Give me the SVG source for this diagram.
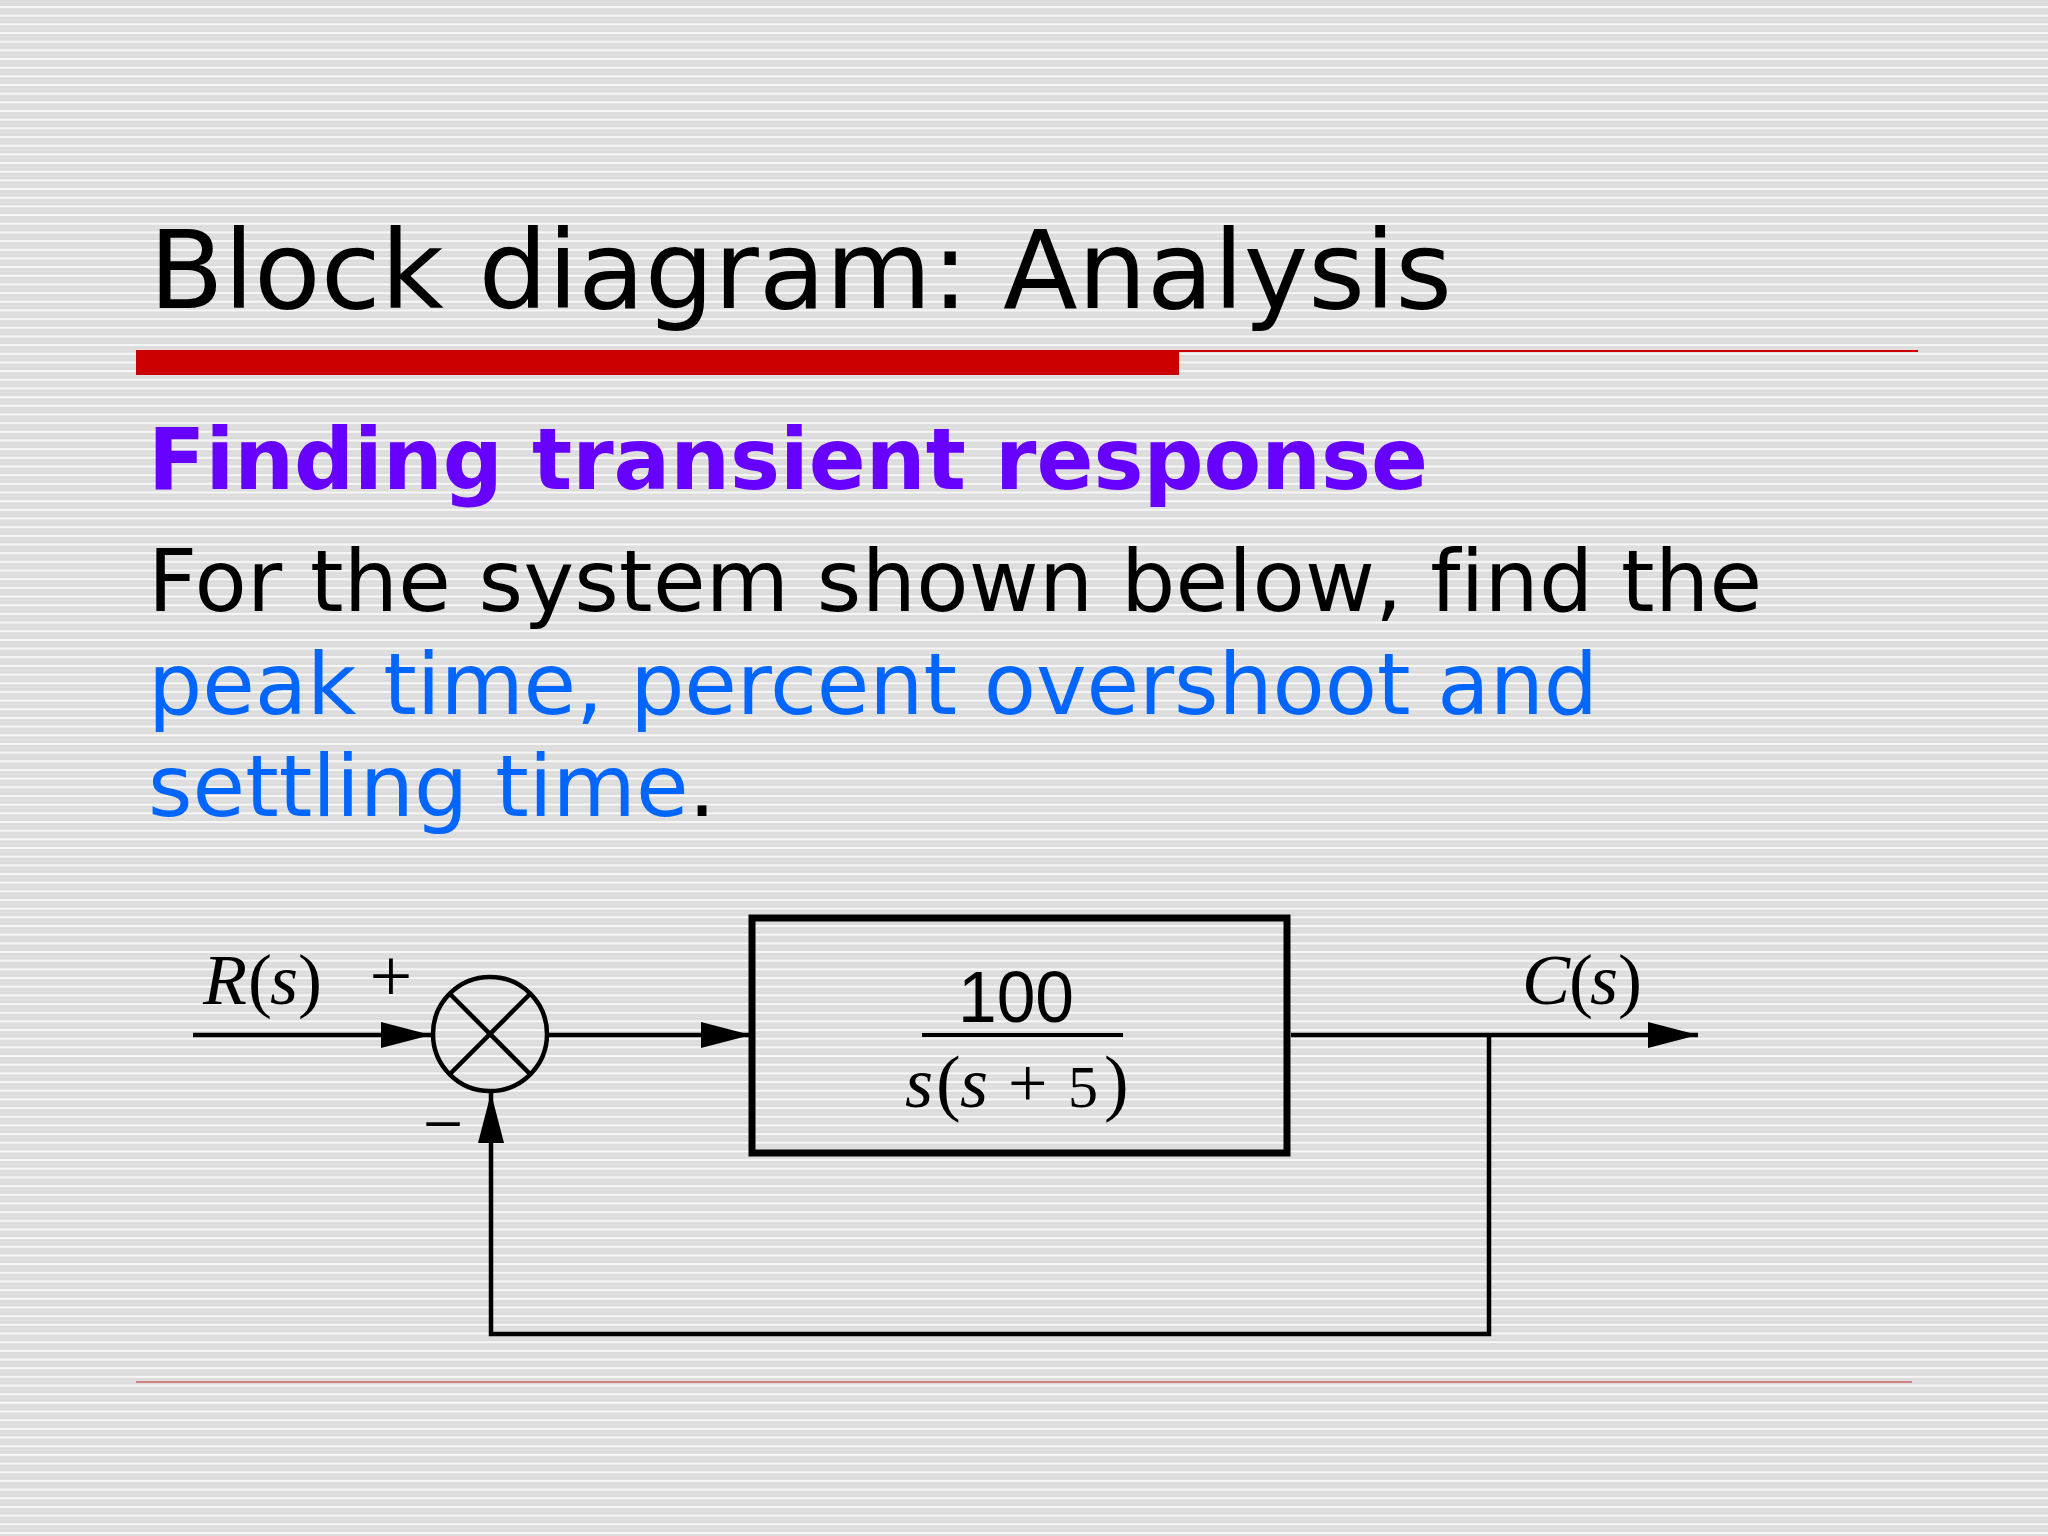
<svg xmlns="http://www.w3.org/2000/svg" width="2048" height="1536" viewBox="0 0 2048 1536">
  <defs>
    <pattern id="stripes" patternUnits="userSpaceOnUse" x="0" y="6" width="64" height="8.67">
      <rect x="0" y="0" width="64" height="8.67" fill="#dcdcdc"/>
      <rect x="0" y="0" width="64" height="2" fill="#f7f7f7"/>
      <rect x="0" y="4.6" width="64" height="1" fill="#e3e3e3"/>
    </pattern>
    <marker id="arrow" markerUnits="userSpaceOnUse" markerWidth="52" markerHeight="28" refX="50" refY="13" orient="auto" viewBox="0 0 52 28">
      <path d="M0,0 L50,13 L0,26 Z" fill="#000"/>
    </marker>
    <style>
      text { font-variant-ligatures: none; }
      .title { font-family: "DejaVu Sans", Verdana, sans-serif; font-size: 109px; fill: #000; }
      .sub { font-family: "DejaVu Sans", Verdana, sans-serif; font-size: 86px; font-weight: bold; fill: #6600ff; }
      .body { font-family: "DejaVu Sans", Verdana, sans-serif; font-size: 85.5px; fill: #000; }
      .blue { fill: #0066ff; }
      .math { font-family: "Liberation Serif", "Times New Roman", serif; fill: #000; }
      .it { font-style: italic; }
      .num { font-family: "Liberation Sans", Arial, sans-serif; font-size: 72px; fill: #000; }
      .wire { fill: none; stroke: #000; stroke-width: 4.5; }
    </style>
  </defs>

  <rect x="0" y="0" width="2048" height="1536" fill="url(#stripes)"/>

  <g id="header">
    <text class="title" x="149" y="308">Block diagram: Analysis</text>
    <rect x="136" y="350" width="1043" height="25" fill="#cc0000"/>
    <line x1="1179" y1="351" x2="1918" y2="351" stroke="#cc0000" stroke-width="2"/>
  </g>

  <g id="text">
    <text class="sub" x="148" y="489" textLength="1280" lengthAdjust="spacingAndGlyphs">Finding transient response</text>
    <text class="body" x="148" y="611" textLength="1614" lengthAdjust="spacing">For the system shown below, find the</text>
    <text class="body blue" x="148" y="714" textLength="1450" lengthAdjust="spacing">peak time, percent overshoot and</text>
    <text class="body" x="148" y="816"><tspan class="blue">settling time</tspan>.</text>
  </g>

  <g id="connectors">
    <path class="wire" d="M193,1035 H431" marker-end="url(#arrow)"/>
    <path class="wire" d="M549,1035 H751" marker-end="url(#arrow)"/>
    <path class="wire" d="M1291,1035 H1698" marker-end="url(#arrow)"/>
    <path class="wire" d="M1489,1035 V1334 H491 V1093" marker-end="url(#arrow)"/>
  </g>

  <g id="summer">
    <circle cx="490" cy="1034" r="57" fill="none" stroke="#000" stroke-width="4.5"/>
    <line x1="450" y1="994" x2="530" y2="1074" stroke="#000" stroke-width="4.5"/>
    <line x1="530" y1="994" x2="450" y2="1074" stroke="#000" stroke-width="4.5"/>
    <text class="math" x="391" y="1001" font-size="76" text-anchor="middle" fill="#333">+</text>
    <text class="math" x="443" y="1148" font-size="72" text-anchor="middle" fill="#333">−</text>
  </g>

  <g id="input-label">
    <text class="math" font-size="72" y="1004"><tspan class="it" x="203">R</tspan><tspan x="248">(</tspan><tspan class="it" x="270">s</tspan><tspan x="298">)</tspan></text>
  </g>

  <g id="plant">
    <rect x="752" y="918" width="535" height="235" fill="none" stroke="#000" stroke-width="7"/>
    <text class="num" x="1016" y="1022" text-anchor="middle" textLength="116" lengthAdjust="spacingAndGlyphs">100</text>
    <line x1="922" y1="1035" x2="1123" y2="1035" stroke="#000" stroke-width="4"/>
    <text class="math" y="1107"><tspan class="it" font-size="72" x="905">s</tspan><tspan font-size="74" x="936">(</tspan><tspan class="it" font-size="72" x="960">s</tspan><tspan font-size="70" x="1008">+</tspan><tspan font-size="60" x="1068">5</tspan><tspan font-size="74" x="1104">)</tspan></text>
  </g>

  <g id="output-label">
    <text class="math" font-size="72" y="1004"><tspan class="it" x="1522">C</tspan><tspan x="1569">(</tspan><tspan class="it" x="1590">s</tspan><tspan x="1618">)</tspan></text>
  </g>

  <g id="footer">
    <line x1="136" y1="1382" x2="1912" y2="1382" stroke="#cc6666" stroke-width="1.5"/>
  </g>
</svg>
